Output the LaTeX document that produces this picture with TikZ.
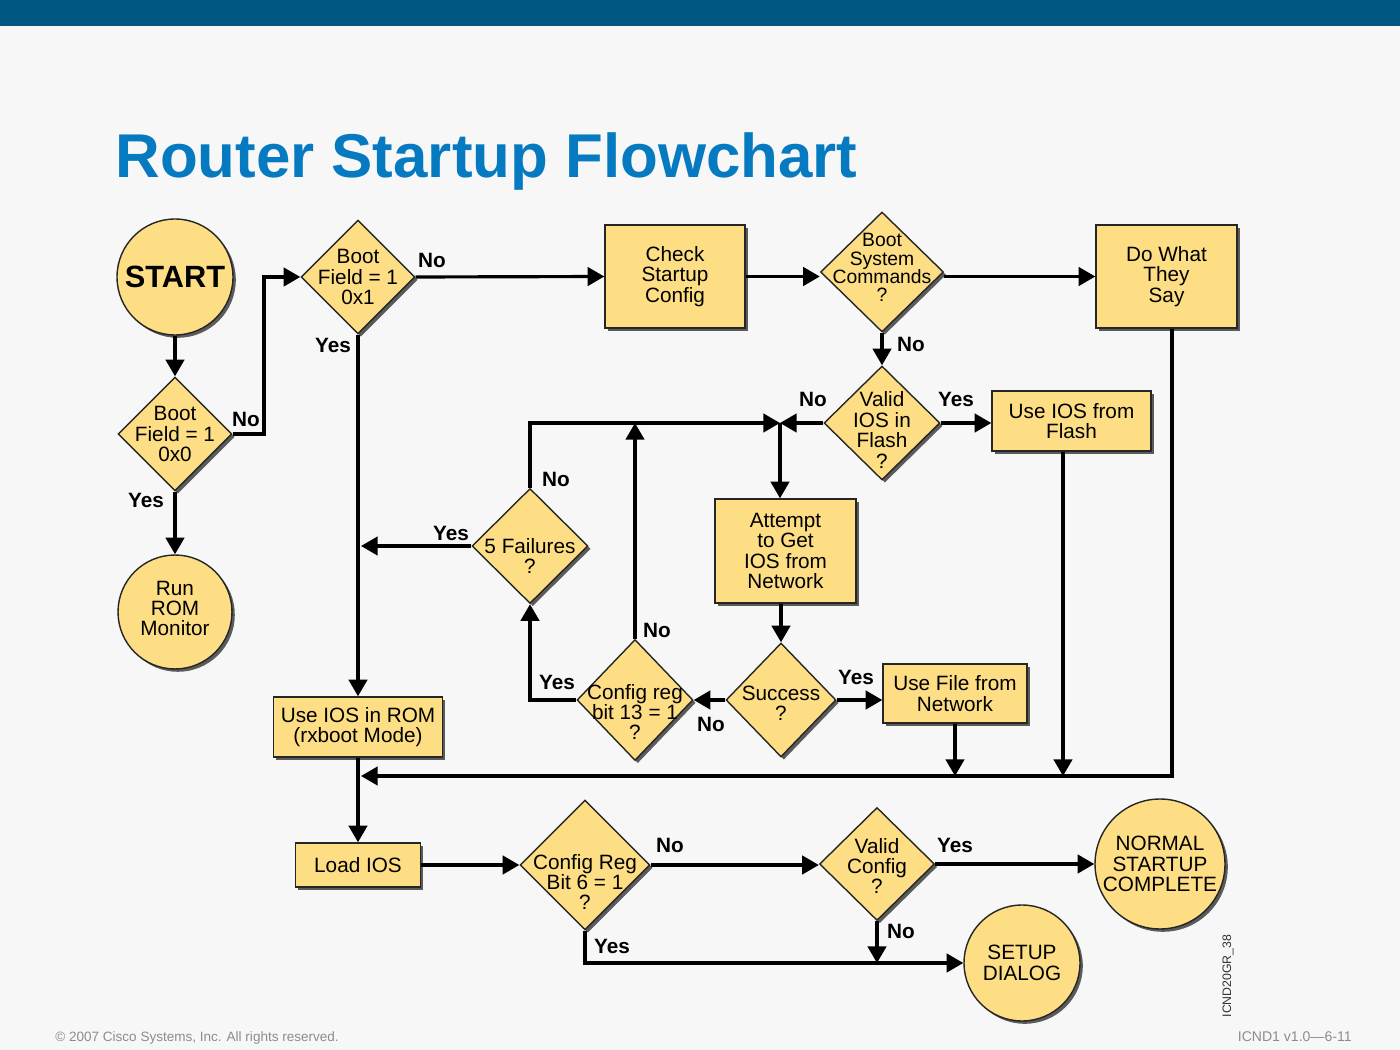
\documentclass[tikz,border=0pt]{standalone}
\usepackage{fontspec}
\setmainfont{Liberation Sans}
\usetikzlibrary{shapes.geometric,arrows.meta,shadows}
\definecolor{band}{RGB}{0,88,130}
\definecolor{titleblue}{RGB}{6,122,192}
\definecolor{nfill}{RGB}{253,222,132}
\definecolor{bgc}{RGB}{247,247,247}
\newcommand\nodefnt{\fontsize{11.8}{11.6}\selectfont}
\newcommand\labfnt{\fontsize{11.8}{12}\selectfont\bfseries}
\begin{document}
\begin{tikzpicture}[x=0.02cm,y=-0.02cm,
 base/.style={draw=black!85, line width=0.8pt, fill=nfill,
   drop shadow={shadow xshift=1.6pt, shadow yshift=-1.6pt, fill=black!75, opacity=0.85}},
 dia/.style={base, diamond, inner sep=0pt},
 box/.style={base, rectangle, align=center, font=\nodefnt, inner sep=0pt},
 circ/.style={base, circle, align=center, font=\nodefnt, inner sep=0pt},
 conn/.style={line width=1.8pt, black},
 arr/.style={conn, -{Triangle[length=9.5pt,width=10.5pt]}},
 lab/.style={font=\labfnt, inner sep=0pt},
 dt/.style={font=\nodefnt, align=center, inner sep=0pt}
]
% background
\fill[bgc] (0,0) rectangle (1400,1050);
\useasboundingbox (0,0) rectangle (1400,1050);
\fill[band] (0,0) rectangle (1400,26);
\node[anchor=base west, inner sep=0pt, text=titleblue, font=\fontsize{35.2}{40}\selectfont\bfseries] (title) at (115,178) {Router Startup Flowchart};

% nodes
\node[circ, minimum size=2.32cm, font=\fontsize{17.5}{18}\selectfont\bfseries] (start) at (175,277) {START};
\node[dia, minimum width=2.28cm, minimum height=2.28cm,
  label={[dt]center:{Boot\\Field = 1\\0x0}}] (b0) at (175,434) {};
\node[circ, minimum size=2.28cm,
  label={[dt, yshift=0.07cm]center:{Run\\ROM\\Monitor}}] (rrm) at (175,612) {};
\node[dia, minimum width=2.28cm, minimum height=2.28cm,
  label={[dt]center:{Boot\\Field = 1\\0x1}}] (b1) at (358,277) {};
\node[box, minimum width=2.8cm, minimum height=2.06cm] (csc) at (675,276.5) {Check\\Startup\\Config};
\node[dia, minimum width=2.46cm, minimum height=2.4cm,
  label={[dt, font=\fontsize{11}{10.4}\selectfont, yshift=0.09cm]center:{Boot\\System\\Commands\\?}}] (bs) at (882,272) {};
\node[box, minimum width=2.82cm, minimum height=2.06cm] (dw) at (1166.5,276.5) {Do What\\They\\Say};
\node[dia, minimum width=2.32cm, minimum height=2.28cm,
  label={[dt, yshift=-0.14cm]center:{Valid\\IOS in\\Flash\\?}}] (vi) at (882,423) {};
\node[box, minimum width=3.18cm, minimum height=1.2cm] (uif) at (1071.5,421) {Use IOS from\\Flash};
\node[box, minimum width=2.82cm, minimum height=2.08cm] (att) at (785.5,551) {Attempt\\to Get\\IOS from\\Network};
\node[dia, minimum width=2.32cm, minimum height=2.3cm,
  label={[dt, yshift=-0.2cm]center:{5 Failures\\?}}] (f5) at (530,546) {};
\node[dia, minimum width=2.2cm, minimum height=2.28cm,
  label={[dt, yshift=-0.07cm]center:{Success\\?}}] (su) at (781,700) {};
\node[dia, minimum width=2.32cm, minimum height=2.42cm,
  label={[dt, yshift=-0.24cm]center:{Config reg\\bit 13 = 1\\?}}] (c13) at (635,700) {};
\node[box, minimum width=2.88cm, minimum height=1.18cm] (ufn) at (955,693.5) {Use File from\\Network};
\node[box, minimum width=3.38cm, minimum height=1.2cm] (rom) at (358,727) {Use IOS in ROM\\(rxboot Mode)};
\node[box, minimum width=2.5cm, minimum height=0.88cm] (lio) at (358,865) {Load IOS};
\node[dia, minimum width=2.6cm, minimum height=2.6cm,
  label={[dt, yshift=-0.34cm]center:{Config Reg\\Bit 6 = 1\\?}}] (c6) at (585,865) {};
\node[dia, minimum width=2.3cm, minimum height=2.26cm,
  label={[dt, yshift=-0.04cm]center:{Valid\\Config\\?}}] (vc) at (877,864) {};
\node[circ, minimum size=2.6cm] (nsc) at (1160,864) {NORMAL\\STARTUP\\COMPLETE};
\node[circ, minimum size=2.32cm] (sd) at (1022,963) {SETUP\\DIALOG};

% helper coordinates
\coordinate (k1) at (264,0);
\coordinate (J) at (780,423);
\coordinate (ret) at (1172,776);
\coordinate (retend) at (361,776);
\coordinate (r2) at (1063,776);
\coordinate (f5end) at (361,546);

% connectors
\draw[arr] (start.south) -- (b0.north);
\draw[arr] (b0.east) -- (b0.east -| k1) |- (b1.west);
\draw[arr] (b0.south) -- (rrm.north);
\draw[arr] (b1.east) -- (csc.west);
\draw[arr] (b1.south) -- (rom.north);
\draw[arr] (csc.east) -- (bs.west |- csc.east);
\draw[arr] (bs.east |- dw.west) -- (dw.west);
\draw[arr] (bs.south) -- (vi.north);
\draw[arr] (vi.east) -- (vi.east -| uif.west);
\draw[arr] (vi.west) -- (J);
\draw[arr] (f5.north) |- (J);
\draw[arr] (J) -- (J |- att.north);
\draw[arr] (c13.north) -- (c13.north |- J);
\draw[arr] (f5.west) -- (f5end);
\draw[arr] (att.south -| su.north) -- (su.north);
\draw[arr] (su.west) -- (c13.east);
\draw[arr] (su.east) -- (su.east -| ufn.west);
\draw[arr] (c13.west) -| (f5.south);
\draw[arr] (dw.south -| ret) -- (ret) -- (retend);
\draw[arr] (uif.south -| r2) -- (r2);
\draw[arr] (ufn.south) -- (ufn.south |- ret);
\draw[arr] (rom.south) -- (lio.north);
\draw[arr] (lio.east) -- (c6.west);
\draw[arr] (c6.east) -- (c6.east -| vc.west);
\draw[arr] (vc.east) -- (vc.east -| nsc.west);
\draw[arr] (vc.south) -- (vc.south |- sd.west);
\draw[arr] (c6.south) |- (sd.west);

% branch labels
\node[lab] (l1) at (246,419) {No};
\node[lab] (l2) at (146,500) {Yes};
\node[lab] (l3) at (432,260) {No};
\node[lab] (l4) at (333,345) {Yes};
\node[lab] (l5) at (911,344) {No};
\node[lab] (l6) at (813,399) {No};
\node[lab] (l7) at (956,399) {Yes};
\node[lab] (l8) at (556,479) {No};
\node[lab] (l9) at (451,533) {Yes};
\node[lab] (l10) at (657,630) {No};
\node[lab] (l11) at (557,682) {Yes};
\node[lab] (l12) at (711,724) {No};
\node[lab] (l13) at (856,677) {Yes};
\node[lab] (l14) at (670,845) {No};
\node[lab] (l15) at (612,946) {Yes};
\node[lab] (l16) at (955,845) {Yes};
\node[lab] (l17) at (901,931) {No};

% footer
\node[anchor=base west, inner sep=0pt, text=black!45, font=\fontsize{7.7}{9}\selectfont] (copy) at (55,1041) {© 2007 Cisco Systems, Inc. All rights reserved.};
\node[anchor=base east, inner sep=0pt, text=black!45, font=\fontsize{8}{9}\selectfont] (pg) at (1352,1041) {ICND1 v1.0—6-11};
\node[rotate=90, inner sep=0pt, text=black!80, font=\fontsize{7}{8}\selectfont] (id) at (1228,976) {ICND20GR\_38};
\end{tikzpicture}
\end{document}
